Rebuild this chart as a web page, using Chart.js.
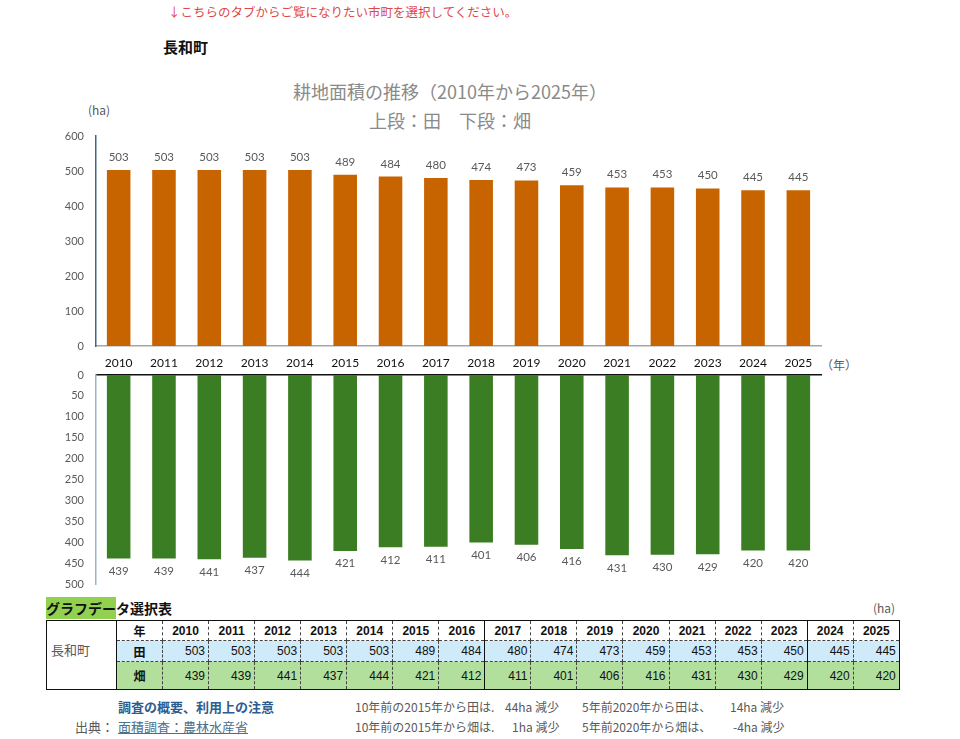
<!DOCTYPE html>
<html lang="ja">
<head>
<meta charset="utf-8">
<script src="https://cdn.jsdelivr.net/npm/chart.js@4"></script>
<style>
  body { margin: 0; background: #fff; font-family: "Noto Sans CJK JP", sans-serif; }
  .abs { position: absolute; white-space: nowrap; }
  #notice { left: 168px; top: 2px; font-size: 12.5px; color: #e04848; }
  #town { left: 163px; top: 36px; font-size: 15px; font-weight: bold; color: #111; }
  #title1 { left: 0; width: 900px; text-align: center; top: 78px; font-size: 18px; color: #8a8a8a; }
  #title2 { left: 0; width: 900px; text-align: center; top: 107px; font-size: 18px; color: #8a8a8a; }
  #unitTop { left: 88px; top: 101px; font-size: 12px; color: #595959; }
  #unitYear { left: 821px; top: 356px; font-size: 12px; color: #595959; }
  .inBar { font-size: 15px; font-weight: bold; color: #fff; }
  #topWrap { position: absolute; left: 50px; top: 126px; width: 800px; height: 250px; }
  #bottomWrap { position: absolute; left: 50px; top: 365px; width: 800px; height: 230px; }
  #tblTitle { left: 46px; top: 597px; font-size: 14px; font-weight: bold; color: #111; }
  #tblTitle .hl { background: #92d050; display: inline-block; line-height: 22px; }
  #tblUnit { left: 873px; top: 599px; font-size: 12px; color: #595959; }
  #dataTable { position: absolute; left: 46px; top: 620px; border-collapse: collapse; table-layout: fixed;
    font-family: "Liberation Sans", Arial, "Noto Sans CJK JP", sans-serif; font-size: 12px; color: #111; }
  #dataTable td { padding: 0 3px; border: 1px dashed #444; }
  #dataTable tr.hdr td { height: 19px; font-weight: bold; text-align: center; border-top: 1px solid #111; }
  #dataTable tr.ta td { height: 20px; background: #cfeaf9; text-align: right; }
  #dataTable tr.hata td { height: 27px; background: #b2df9c; text-align: right; border-bottom: 1px solid #111; }
  #dataTable tr td.town { background: #fff; text-align: left; color: #595959; border: 1px solid #111;
    font-weight: normal; font-size: 13px; font-family: "Noto Sans CJK JP", sans-serif; padding: 0 0 12px 4px; }
  #dataTable tr td.lbl { text-align: center; font-weight: bold; border-left: 1px solid #111;
    font-family: "Noto Sans CJK JP", sans-serif; }
  #dataTable tr td.solidR { border-right: 1px solid #111; }
  .note { font-size: 12px; color: #595959; }
  #guide { left: 118px; top: 697px; font-size: 13px; font-weight: bold; color: #2e5c8f; }
  #srcLbl { left: 75px; top: 717px; font-size: 13px; color: #595959; }
  #src { left: 118px; top: 717px; font-size: 13px; color: #4a6f8f; text-decoration: underline; }
</style>
</head>
<body>
<div class="abs" id="notice">↓こちらのタブからご覧になりたい市町を選択してください。</div>
<div class="abs" id="town">長和町</div>
<div class="abs" id="title1">耕地面積の推移（2010年から2025年）</div>
<div class="abs" id="title2">上段：田　下段：畑</div>
<div class="abs" id="unitTop">(ha)</div>
<div class="abs" id="unitYear">（年）</div>
<div class="abs inBar" style="left:790px; top:258px;">田</div>
<div class="abs inBar" style="left:790px; top:450px;">畑</div>

<div id="topWrap"><canvas id="taChart"></canvas></div>
<div id="bottomWrap"><canvas id="hataChart"></canvas></div>

<div class="abs" id="tblTitle"><span class="hl">グラフデー</span>タ選択表</div>
<div class="abs" id="tblUnit">(ha)</div>
<table id="dataTable"></table>

<div class="abs" id="guide">調査の概要、利用上の注意</div>
<div class="abs" id="srcLbl">出典：</div>
<div class="abs" id="src">面積調査：農林水産省</div>
<div class="abs note" style="left:355px; top:698px;">10年前の2015年から田は.</div>
<div class="abs note" style="left:505px; top:698px;">44ha 減少</div>
<div class="abs note" style="left:582px; top:698px;">5年前2020年から田は、</div>
<div class="abs note" style="left:730px; top:698px;">14ha 減少</div>
<div class="abs note" style="left:355px; top:718px;">10年前の2015年から畑は.</div>
<div class="abs note" style="left:512px; top:718px;">1ha 減少</div>
<div class="abs note" style="left:582px; top:718px;">5年前2020年から畑は、</div>
<div class="abs note" style="left:733px; top:718px;">-4ha 減少</div>

<script>
const years = ["2010", "2011", "2012", "2013", "2014", "2015", "2016", "2017",
  "2018", "2019", "2020", "2021", "2022", "2023", "2024", "2025"];
const taValues = [503, 503, 503, 503, 503, 489, 484, 480, 474, 473, 459, 453, 453, 450, 445, 445];
const hataValues = [439, 439, 441, 437, 444, 421, 412, 411, 401, 406, 416, 431, 430, 429, 420, 420];
const taAxis = { min: 0, max: 600, step: 100 };
const hataAxis = { min: 0, max: 500, step: 50 };

const numFont = "Lato, 'Liberation Sans', sans-serif";

// draws the value next to each bar (above for 田, below for 畑)
const valueLabels = {
  id: "valueLabels",
  afterDatasetsDraw(chart, args, opts) {
    const ctx = chart.ctx;
    const meta = chart.getDatasetMeta(0);
    const data = chart.data.datasets[0].data;
    ctx.save();
    ctx.font = "11.5px " + numFont;
    ctx.fillStyle = "#595959";
    ctx.textAlign = "center";
    meta.data.forEach((bar, i) => {
      if (opts.below) {
        ctx.textBaseline = "top";
        ctx.fillText(data[i], bar.x, bar.y + 7);
      } else {
        ctx.textBaseline = "bottom";
        ctx.fillText(data[i], bar.x, bar.y - 7);
      }
    });
    ctx.restore();
  },
};

// fixed width for the value axis, no extra padding from the tick labels
function fitValueAxis(s) {
  s.width = 46;
  s.paddingTop = 0;
  s.paddingBottom = 0;
}

function initTaChart() {
  const ctx = document.getElementById("taChart").getContext("2d");
  new Chart(ctx, {
    type: "bar",
    data: {
      labels: years,
      datasets: [{ data: taValues, backgroundColor: "#c86400", categoryPercentage: 1, barPercentage: 0.52 }],
    },
    options: {
      responsive: true,
      maintainAspectRatio: false,
      animation: false,
      layout: { padding: { top: 10, right: 29, left: 0, bottom: 0 } },
      plugins: { legend: { display: false }, tooltip: { enabled: false }, valueLabels: { below: false } },
      scales: {
        x: {
          grid: { display: false, drawTicks: false },
          border: { display: true, color: "#a6a6a6", width: 1.5 },
          ticks: { color: "#111", padding: 10, font: { size: 12, family: numFont } },
          afterFit: (s) => { s.height = 30; },
        },
        y: {
          min: taAxis.min,
          max: taAxis.max,
          ticks: { stepSize: taAxis.step, color: "#595959", padding: 12, font: { size: 11, family: numFont } },
          grid: { display: false, drawTicks: false },
          border: { display: true, color: "#3e6788", width: 1.5 },
          afterFit: fitValueAxis,
        },
      },
    },
    plugins: [valueLabels],
  });
}

function initHataChart() {
  const ctx = document.getElementById("hataChart").getContext("2d");
  new Chart(ctx, {
    type: "bar",
    data: {
      labels: years,
      datasets: [{ data: hataValues, backgroundColor: "#3a7d22", categoryPercentage: 1, barPercentage: 0.52 }],
    },
    options: {
      responsive: true,
      maintainAspectRatio: false,
      animation: false,
      layout: { padding: { top: 10, right: 29, left: 0, bottom: 11 } },
      plugins: { legend: { display: false }, tooltip: { enabled: false }, valueLabels: { below: true } },
      scales: {
        x: {
          position: "top",
          grid: { display: false, drawTicks: false },
          border: { display: true, color: "#111", width: 1.5 },
          ticks: { display: false },
          afterFit: (s) => { s.height = 0; },
        },
        y: {
          reverse: true,
          min: hataAxis.min,
          max: hataAxis.max,
          ticks: { stepSize: hataAxis.step, color: "#595959", padding: 12, font: { size: 11, family: numFont } },
          grid: { display: false, drawTicks: false },
          border: { display: true, color: "#9bb3c4", width: 1.5 },
          afterFit: fitValueAxis,
        },
      },
    },
    plugins: [valueLabels],
  });
}

// table below the chart, built from the same arrays
function buildTable() {
  const solidAfter = ["2016", "2023"];
  const tbl = document.getElementById("dataTable");
  let html = '<colgroup><col style="width:70px"><col style="width:46px">';
  years.forEach(() => { html += '<col style="width:46.06px">'; });
  html += "</colgroup>";
  const cls = (y) => (solidAfter.includes(y) || y === years[years.length - 1] ? ' class="solidR"' : "");
  html += '<tr class="hdr"><td class="town" rowspan="3">長和町</td><td class="lbl">年</td>';
  years.forEach((y) => { html += `<td${cls(y)}>${y}</td>`; });
  html += '</tr><tr class="ta"><td class="lbl">田</td>';
  years.forEach((y, i) => { html += `<td${cls(y)}>${taValues[i]}</td>`; });
  html += '</tr><tr class="hata"><td class="lbl">畑</td>';
  years.forEach((y, i) => { html += `<td${cls(y)}>${hataValues[i]}</td>`; });
  html += "</tr>";
  tbl.innerHTML = html;
}

document.addEventListener("DOMContentLoaded", () => {
  initTaChart();
  initHataChart();
  buildTable();
});
</script>
</body>
</html>
